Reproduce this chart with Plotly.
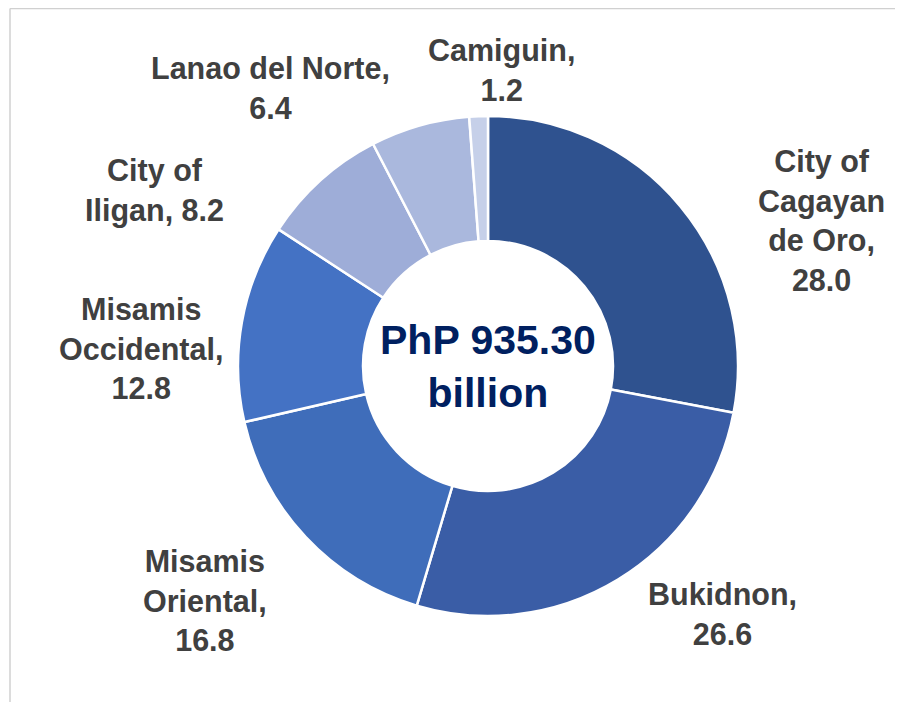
import plotly.graph_objects as go

regions = ["City of Cagayan de Oro", "Bukidnon", "Misamis Oriental", "Misamis Occidental",
           "City of Iligan", "Lanao del Norte", "Camiguin"]
label_lines = ["City of<br>Cagayan<br>de Oro", "Bukidnon", "Misamis<br>Oriental",
               "Misamis<br>Occidental", "City of<br>Iligan", "Lanao del Norte", "Camiguin"]
value_sep = ["<br>", "<br>", "<br>", "<br>", " ", "<br>", "<br>"]
shares = [28.0, 26.6, 16.8, 12.8, 8.2, 6.4, 1.2]
colors = ["#2F528F", "#3A5DA6", "#3F6DBA", "#4472C4", "#9EADD8", "#AAB8DD", "#C6D0E9"]
center_text = "PhP 935.30<br>billion"

# page offset (the page body adds an 8px margin)
OFF = 8
# label placement (screen pixel centres of each data label block)
label_pos = [(821, 220), (722, 614), (205, 600), (141, 348), (154, 190), (270, 88), (502, 70)]

W, H = 903, 702
cx, cy, R = 488 - OFF, 366 - OFF, 250
FONT = "Liberation Sans, Arial, sans-serif"

fig = go.Figure(go.Pie(
    labels=regions,
    values=shares,
    textinfo="none",
    hole=0.5,
    sort=False,
    direction="clockwise",
    rotation=0,
    automargin=False,
    marker=dict(colors=colors, line=dict(color="white", width=2.5)),
    showlegend=False,
    hoverinfo="label+value",
    domain=dict(x=[(cx - R) / W, (cx + R) / W], y=[(H - cy - R) / H, (H - cy + R) / H]),
))

for lab, sep, v, (px, py) in zip(label_lines, value_sep, shares, label_pos):
    fig.add_annotation(
        x=(px - OFF) / W, y=1 - (py - OFF) / H, xref="paper", yref="paper",
        text=f"<b>{lab},{sep}{v:.1f}</b>", showarrow=False, align="center",
        font=dict(family=FONT, size=30.5, color="#404040"),
        xanchor="center", yanchor="middle",
    )

fig.add_annotation(
    x=cx / W, y=1 - cy / H, xref="paper", yref="paper",
    text=f"<b>{center_text}</b>", showarrow=False,
    font=dict(family=FONT, size=41, color="#002060"),
    xanchor="center", yanchor="middle",
)

bx, by = (10 - OFF) / W, 1 - (8.5 - OFF) / H
fig.add_shape(type="line", xref="paper", yref="paper", x0=bx, x1=bx, y0=0, y1=by,
              line=dict(color="#D0D0D0", width=1.5))
fig.add_shape(type="line", xref="paper", yref="paper", x0=bx, x1=1, y0=by, y1=by,
              line=dict(color="#D0D0D0", width=1.5))

fig.update_layout(
    width=W, height=H,
    margin=dict(l=0, r=0, t=0, b=0, autoexpand=False),
    paper_bgcolor="white",
    plot_bgcolor="white",
)

fig.write_html("out.html")
